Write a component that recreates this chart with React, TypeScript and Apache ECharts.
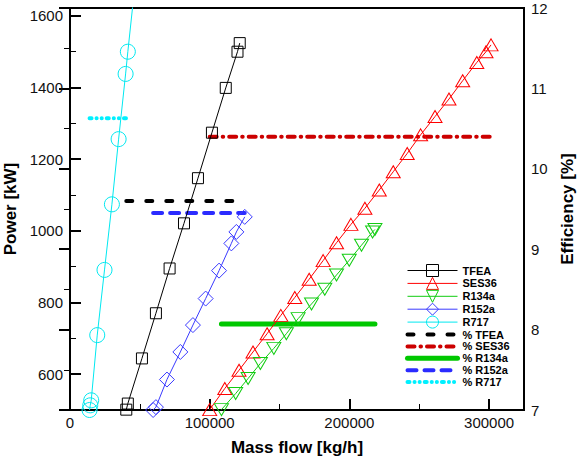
import React, { useEffect, useRef } from 'react';
import * as echarts from 'echarts';

// ---- Data ----
const tfeaFlow = [40300, 41400, 51500, 61500, 71300, 81600, 91600, 101600, 111500, 119900, 121500];
const tfeaPower = [501, 518, 644, 770, 895, 1021, 1147, 1274, 1399, 1500, 1524];

const ses36Flow = [100000, 110800, 121000, 131000, 141100, 150900, 160900, 171200, 181200, 190800, 201100, 211100, 221400, 231400, 241400, 251000, 261300, 271300, 281100, 291200, 297800, 301400];
const ses36Power = [501, 560, 611, 662, 713, 764, 814, 865, 917, 967, 1018, 1063, 1114, 1165, 1216, 1268, 1319, 1368, 1419, 1470, 1500, 1519];

const r134aFlow = [108400, 118600, 127500, 136300, 145900, 154900, 163300, 172900, 182400, 190800, 199900, 208700, 216600, 218300];
const r134aPower = [501, 546, 588, 630, 672, 713, 755, 796, 837, 877, 918, 960, 997, 1004];

const r152aFlow = [59500, 61500, 69400, 79000, 88000, 97100, 106700, 115500, 119100, 125100];
const r152aPower = [500, 508, 585, 662, 737, 811, 889, 965, 997, 1039];

const r717Flow = [14000, 14500, 15200, 19500, 24700, 30000, 34800, 39800, 41400, 47700];
const r717Power = [500, 513, 527, 709, 891, 1074, 1256, 1438, 1500, 1730];

// Efficiency [%] (constant over each refrigerant's mass-flow range)
const effTFEAFlow = [40300, 121500];
const effTFEA = 9.6;
const effSES36Flow = [100000, 301400];
const effSES36 = 10.4;
const effR134aFlow = [108400, 218300];
const effR134a = 8.07;
const effR152aFlow = [59500, 125100];
const effR152a = 9.45;
const effR717Flow = [14000, 43000];
const effR717 = 10.63;

const FONT = "'Liberation Sans', Arial, Helvetica, sans-serif";

const markerSeries = (
  name: string, flows: number[], powers: number[], color: string,
  symbol: string, size: number | number[], rotate = 0
) => ({
  name,
  type: 'line',
  xAxisIndex: 0,
  yAxisIndex: 0,
  data: flows.map((f, i) => [f, powers[i]]),
  symbol,
  symbolSize: size,
  symbolRotate: rotate,
  showSymbol: true,
  showAllSymbol: true,
  clip: true,
  silent: true,
  z: 3,
  lineStyle: { color, width: 1 },
  itemStyle: { color: 'rgba(0,0,0,0)', borderColor: color, borderWidth: 1 },
  emphasis: { disabled: true },
});

const effSeries = (
  name: string, range: number[], value: number, color: string,
  type: any, width: number
) => ({
  name,
  type: 'line',
  xAxisIndex: 0,
  yAxisIndex: 1,
  data: range.map((f) => [f, value]),
  symbol: 'none',
  showSymbol: false,
  silent: true,
  z: 2,
  lineStyle: { color, width, type, cap: 'round' },
  itemStyle: { color },
  emphasis: { disabled: true },
});

const plain = (v: number) => String(v);

export default function App() {
  const ref = useRef<HTMLDivElement>(null);

  useEffect(() => {
    if (!ref.current) return;
    const chart = echarts.init(ref.current, undefined, { renderer: 'svg' });

    const tickLabel = { fontFamily: FONT, fontSize: 15, color: '#111', formatter: plain };
    const nameStyle = { fontFamily: FONT, fontSize: 17, fontWeight: 'bold', color: '#000' };

    const option: any = {
      animation: false,
      backgroundColor: '#fff',
      grid: {
        left: 70, right: 55, top: 8, bottom: 53,
        show: true, borderColor: '#000', borderWidth: 2,
        containLabel: false, outerBoundsMode: 'none',
      },
      xAxis: [
        {
          type: 'value', position: 'bottom', min: 0, max: 325000, interval: 100000,
          name: 'Mass flow [kg/h]', nameLocation: 'middle', nameGap: 29, nameTextStyle: nameStyle,
          axisLine: { show: true, lineStyle: { color: '#000', width: 2 } },
          axisTick: { show: true, inside: true, length: 11, lineStyle: { color: '#000', width: 2 } },
          axisLabel: { ...tickLabel, margin: 5, showMaxLabel: false },
          splitLine: { show: false },
        },
        {
          type: 'value', position: 'bottom', min: 0, max: 325000, interval: 50000,
          axisLine: { show: false },
          axisTick: { show: true, inside: true, length: 6, lineStyle: { color: '#000', width: 1 } },
          axisLabel: { show: false },
          splitLine: { show: false },
        },
      ],
      yAxis: [
        {
          type: 'value', position: 'left', min: 500, max: 1622,
          name: 'Power [kW]', nameLocation: 'middle', nameGap: 36, nameRotate: 90, nameTextStyle: nameStyle,
          axisLine: { show: true, lineStyle: { color: '#000', width: 2 } },
          axisTick: { show: true, inside: true, length: 11, lineStyle: { color: '#000', width: 2 } },
          axisLabel: { ...tickLabel, margin: 7, showMinLabel: false, showMaxLabel: false },
          splitLine: { show: false },
        },
        {
          type: 'value', position: 'right', min: 7, max: 12, interval: 1,
          name: 'Efficiency [%]', nameLocation: 'middle', nameGap: 35, nameRotate: 90, nameTextStyle: nameStyle,
          axisLine: { show: true, lineStyle: { color: '#000', width: 2 } },
          axisTick: { show: true, inside: true, length: 11, lineStyle: { color: '#000', width: 2 } },
          minorTick: { show: true, splitNumber: 2, length: 6, lineStyle: { color: '#000', width: 1 } },
          axisLabel: { ...tickLabel, margin: 7 },
          splitLine: { show: false },
        },
        {
          type: 'value', position: 'left', min: 500, max: 1622, interval: 100,
          axisLine: { show: false },
          axisTick: { show: true, inside: true, length: 6, lineStyle: { color: '#000', width: 1 } },
          axisLabel: { show: false },
          splitLine: { show: false },
        },
      ],
      legend: {
        orient: 'vertical',
        left: 405,
        top: 264,
        itemWidth: 50,
        itemHeight: 15,
        itemGap: -0.1,
        padding: 0,
        selectedMode: false,
        textStyle: { fontFamily: FONT, fontSize: 11, fontWeight: 'bold', color: '#000', lineHeight: 12 },
        itemStyle: { borderWidth: 1 },
        data: [
          { name: 'TFEA', lineStyle: { width: 1 } },
          { name: 'SES36', lineStyle: { width: 1 } },
          { name: 'R134a', lineStyle: { width: 1 } },
          { name: 'R152a', lineStyle: { width: 1 } },
          { name: 'R717', lineStyle: { width: 1 } },
          { name: '% TFEA', lineStyle: { width: 4 }, itemStyle: { opacity: 0 } },
          { name: '% SES36', lineStyle: { width: 4 }, itemStyle: { opacity: 0 } },
          { name: '% R134a', lineStyle: { width: 5 }, itemStyle: { opacity: 0 } },
          { name: '% R152a', lineStyle: { width: 4 }, itemStyle: { opacity: 0 } },
          { name: '% R717', lineStyle: { width: 4 }, itemStyle: { opacity: 0 } },
        ],
      },
      series: [
        effSeries('% TFEA', effTFEAFlow, effTFEA, '#000000', [6, 14], 4),
        effSeries('% SES36', effSES36Flow, effSES36, '#cc0000', [7, 6, 0.5, 6], 4),
        effSeries('% R134a', effR134aFlow, effR134a, '#00c800', 'solid', 5),
        effSeries('% R152a', effR152aFlow, effR152a, '#2b2bff', [9, 8], 4),
        effSeries('% R717', effR717Flow, effR717, '#00f0ff', [2, 5, 0.1, 5, 0.1, 5], 4),
        markerSeries('TFEA', tfeaFlow, tfeaPower, '#000000', 'rect', 11),
        markerSeries('SES36', ses36Flow, ses36Power, '#ff0000', 'triangle', [14, 12]),
        markerSeries('R134a', r134aFlow, r134aPower, '#11cc11', 'triangle', [14, 12], 180),
        markerSeries('R152a', r152aFlow, r152aPower, '#3a3aff', 'diamond', 15),
        markerSeries('R717', r717Flow, r717Power, '#00e8f0', 'circle', 15),
      ],
    };

    chart.setOption(option);
    return () => chart.dispose();
  }, []);

  return (
    <div
      ref={ref}
      style={{ position: 'absolute', left: 0, top: 0, width: 579, height: 463, background: '#fff' }}
    />
  );
}
